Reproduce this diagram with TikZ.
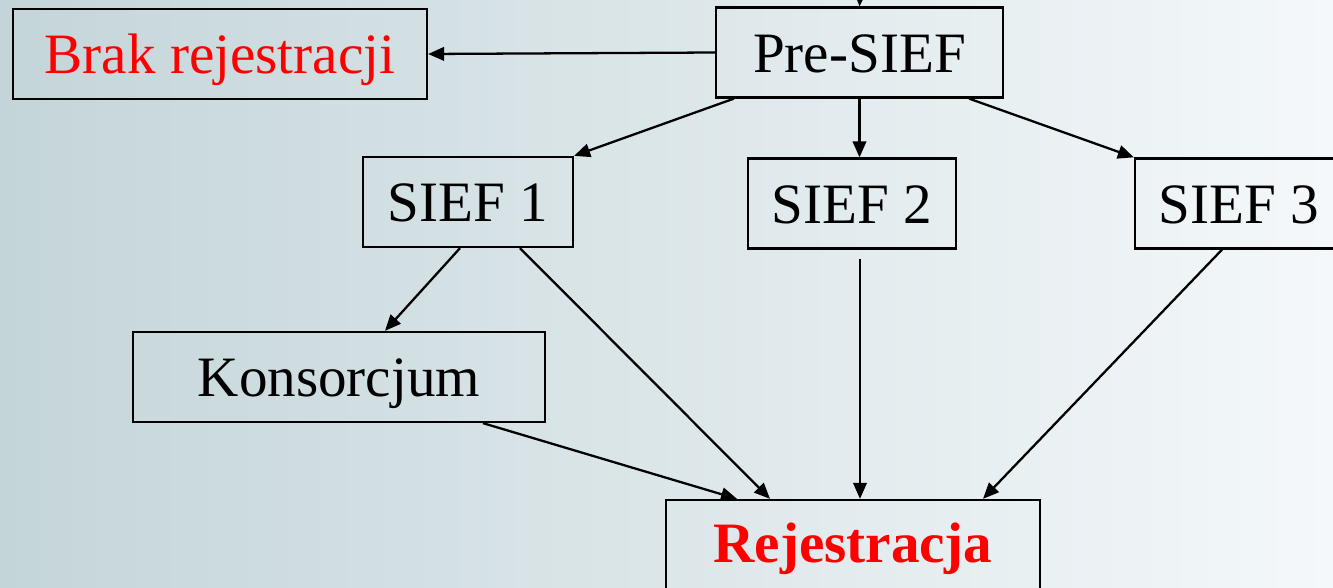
\documentclass[tikz,border=0pt]{standalone}
\usepackage{fontspec}
\setmainfont{Liberation Serif}
\usepackage{tikz}
\usetikzlibrary{arrows.meta, positioning, calc}
\definecolor{bgleft}{RGB}{196,213,217}
\definecolor{bgright}{RGB}{244,248,250}
\definecolor{textred}{RGB}{255,0,0}

\begin{document}
\begin{tikzpicture}[
    x=0.02cm, y=-0.02cm,
    box/.style={rectangle, draw=black, line width=1.3pt, minimum height=1.8cm,
                inner sep=0pt, text height=1.0cm, text depth=0.2cm,
                align=center, font=\fontsize{32.5}{39}\selectfont},
    arrow/.style={-{Triangle[length=3.2mm, width=2.7mm]}, line width=1.3pt, black}
]

% backdrop
\useasboundingbox (0,0) rectangle (1333,588);
\shade[left color=bgleft, right color=bgright] (0,0) rectangle (1333,588);

\node[box, minimum width=8.28cm, text=textred] (brak) at (220,54) {Brak rejestracji};
\node[box, minimum width=5.74cm] (pre) at (859.5,52.5) {Pre-SIEF};
\node[box, minimum width=4.2cm] (sief1) at (468,202) {SIEF 1};
\node[box, minimum width=4.16cm] (sief2) at (852,203.5) {SIEF 2};
\node[box, minimum width=4.16cm] (sief3) at (1239,203.5) {SIEF 3};
\node[box, minimum width=8.24cm] (kons) at (339,377) {Konsorcjum};
\node[box, minimum width=7.48cm, text height=0.9cm, text depth=0.2cm, text=textred,
      font=\fontsize{32.5}{39}\selectfont\bfseries] (rej) at (853,545) {Rejestracja};

\coordinate (entry) at (860,-4);

\draw[arrow] (entry) -- (pre.north);
\draw[arrow] (pre.west) -- (brak.east);
\draw[arrow] ([xshift=0.38cm]pre.south west) -- (sief1.north east);
\draw[arrow] (pre.south) -- (pre.south |- sief2.north);
\draw[arrow] ([xshift=-0.7cm]pre.south east) -- (sief3.north west);

% into Rejestracja
\draw[arrow] ([xshift=-0.16cm]sief1.south) -- ([xshift=0.92cm]kons.north);
\draw[arrow] ([xshift=1.04cm]sief1.south) -- ([xshift=-1.66cm]rej.north);
\draw[arrow] ([xshift=0.16cm,yshift=-0.18cm]sief2.south) -- ([xshift=0.14cm]rej.north);
\draw[arrow] ([xshift=-0.34cm]sief3.south) -- ([xshift=2.6cm]rej.north);
\draw[arrow] ([xshift=2.88cm]kons.south) -- ([xshift=-2.32cm]rej.north);

\end{tikzpicture}
\end{document}
